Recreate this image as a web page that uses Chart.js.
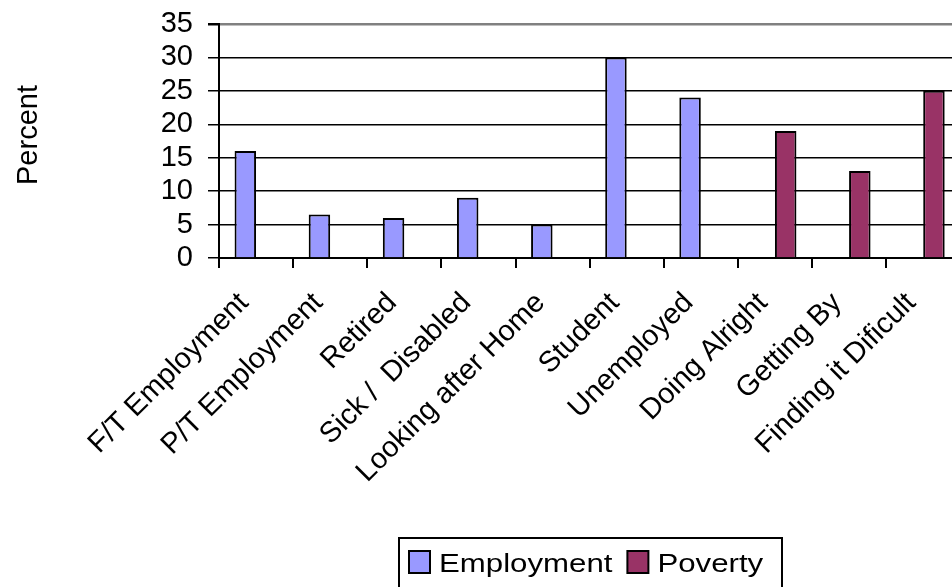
<!DOCTYPE html>
<html>
<head>
<meta charset="utf-8">
<title>Employment and Poverty</title>
<script src="https://cdn.jsdelivr.net/npm/chart.js@4/dist/chart.umd.min.js"></script>
<style>
  html, body { margin: 0; padding: 0; background: #fff; overflow: hidden; }
  #wrap { position: relative; width: 966px; height: 587px; }
</style>
</head>
<body>
<div id="wrap"><canvas id="chart"></canvas></div>
<script>
// categories along the bottom
const categories = [
    'F/T Employment', 'P/T Employment', 'Retired', 'Sick /  Disabled',
    'Looking after Home', 'Student', 'Unemployed',
    'Doing Alright', 'Getting By', 'Finding it Dificult'
];
// percent values, one slot per category
const employment = [16, 6.5, 6, 9, 5, 30, 24, null, null, null];
const poverty = [null, null, null, null, null, null, null, 19, 13, 25];
const yTicks = [0, 5, 10, 15, 20, 25, 30, 35];
const yTitle = 'Percent';

const FONT = 'Arial, "Liberation Sans", sans-serif';

// axis title, rotated, to the left of the tick labels
const yTitlePlugin = {
    id: 'yTitle',
    afterDraw(chart) {
        const ctx = chart.ctx;
        ctx.save();
        ctx.translate(37, 135);
        ctx.rotate(-Math.PI / 2);
        ctx.font = '29px ' + FONT;
        ctx.fillStyle = '#000';
        ctx.textAlign = 'center';
        ctx.textBaseline = 'alphabetic';
        ctx.fillText(yTitle, 0, 0);
        ctx.restore();
    }
};

// framed legend below the axis labels (text drawn slightly wide)
const boxLegendPlugin = {
    id: 'boxLegend',
    afterDraw(chart) {
        const ctx = chart.ctx;
        const left = 399, top = 538, right = 782;
        const stretch = 1.2;
        ctx.save();
        ctx.strokeStyle = '#000';
        ctx.lineWidth = 2;
        ctx.strokeRect(left, top, right - left, chart.height + 10 - top);
        ctx.font = '26px ' + FONT;
        ctx.textBaseline = 'alphabetic';
        let x = left + 10;
        chart.data.datasets.forEach(ds => {
            ctx.fillStyle = ds.backgroundColor;
            ctx.fillRect(x, 551, 21, 22);
            ctx.strokeStyle = '#000';
            ctx.lineWidth = 2;
            ctx.strokeRect(x, 551, 21, 22);
            x += 21 + 9;
            ctx.save();
            ctx.translate(x, 572);
            ctx.scale(stretch, 1);
            ctx.fillStyle = '#000';
            ctx.fillText(ds.label, 0, 0);
            ctx.restore();
            x += ctx.measureText(ds.label).width * stretch + 15;
        });
        ctx.restore();
    }
};

new Chart(document.getElementById('chart'), {
    type: 'bar',
    data: {
        labels: categories,
        datasets: [
            {
                label: 'Employment',
                data: employment,
                backgroundColor: '#9999ff',
                borderColor: '#000',
                borderWidth: 2,
                categoryPercentage: 0.58,
                barPercentage: 1
            },
            {
                label: 'Poverty',
                data: poverty,
                backgroundColor: '#993366',
                borderColor: '#000',
                borderWidth: 2,
                categoryPercentage: 0.58,
                barPercentage: 1
            }
        ]
    },
    options: {
        responsive: true,
        maintainAspectRatio: false,
        animation: false,
        layout: { padding: { left: 0, right: 4, top: 24, bottom: 0 } },
        plugins: {
            legend: { display: false },
            tooltip: { enabled: false }
        },
        scales: {
            x: {
                grid: { drawOnChartArea: false, drawTicks: true, tickLength: 10, color: '#000', lineWidth: 2, offset: true },
                border: { color: '#000', width: 2 },
                ticks: {
                    color: '#000',
                    font: { family: FONT, size: 29 },
                    minRotation: 45,
                    maxRotation: 45,
                    autoSkip: false,
                    padding: 18,
                    labelOffset: -12
                },
                afterFit(scale) { scale.height = 329; }
            },
            y: {
                min: 0,
                max: 35,
                afterBuildTicks(scale) { scale.ticks = yTicks.map(v => ({ value: v })); },
                grid: {
                    color: ctx => ctx.tick && ctx.tick.value === 35 ? '#808080' : '#000',
                    lineWidth: ctx => ctx.tick && ctx.tick.value === 35 ? 2.5 : 1.5,
                    tickColor: '#000',
                    tickLength: 11
                },
                border: { color: '#000', width: 2 },
                ticks: {
                    color: '#000',
                    font: { family: FONT, size: 29 },
                    padding: 15,
                    autoSkip: false
                },
                afterFit(scale) {
                    scale.width = 219;
                    // the top label may poke above the plot; layout padding covers it
                    scale.paddingTop = 0;
                }
            }
        }
    },
    plugins: [yTitlePlugin, boxLegendPlugin]
});
</script>
</body>
</html>
